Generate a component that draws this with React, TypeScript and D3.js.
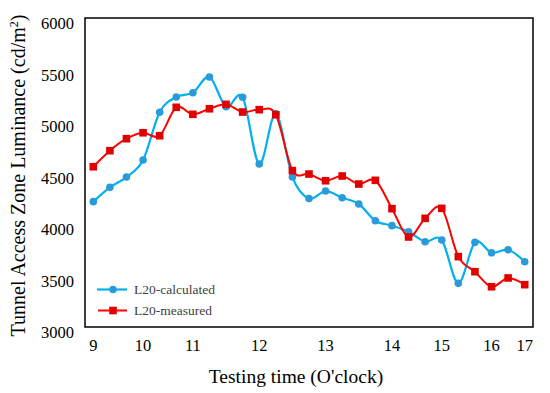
import * as d3 from "d3";

// hour labels shown under particular sample points (the axis is categorical)
const timeLabels = ["9", "", "", "10", "", "", "11", "", "", "", "12", "", "", "", "13", "", "", "", "14", "", "", "15", "", "", "16", "", "17"];

const calculated = [4217, 4356, 4456, 4621, 5085, 5233, 5275, 5427, 5139, 5230, 4583, 5070, 4456, 4247, 4320, 4255, 4194, 4032, 3984, 3925, 3828, 3845, 3424, 3822, 3721, 3750, 3634];
const measured = [4556, 4712, 4828, 4886, 4857, 5133, 5065, 5119, 5162, 5087, 5110, 5061, 4518, 4485, 4420, 4466, 4388, 4424, 4149, 3874, 4055, 4152, 3683, 3537, 3391, 3476, 3411];

const yTicks = [3000, 3500, 4000, 4500, 5000, 5500, 6000];

const W = 550, H = 393;
const M = { left: 85, right: 533, top: 18, bottom: 327 };
const FONT = "'Liberation Serif', 'Times New Roman', serif";

export default function App() {
  const x = d3
    .scalePoint<number>()
    .domain(timeLabels.map((_, i) => i))
    .range([M.left, M.right])
    .padding(0.5);
  const y = d3.scaleLinear().domain([3000, 6000]).range([M.bottom, M.top]);

  const line = d3
    .line<number>()
    .x((_, i) => x(i)!)
    .y((d) => y(d))
    .curve(d3.curveCardinal.tension(0));

  const blueLine = "#00B0F0";
  const blueDot = "#2A9BD8";
  const red = "#FF0000";
  const redDot = "#E00000";

  return (
    <svg width={W} height={H} style={{ position: "absolute", left: 0, top: 0, background: "#fff" }} fontFamily={FONT}>
      {/* y labels */}
      {yTicks.map((t) => (
        <text key={t} x={74} y={y(t) + 11} textAnchor="end" fontSize={16.5} fill="#000">
          {t}
        </text>
      ))}
      {/* x labels */}
      {timeLabels.map((l, i) =>
        l ? (
          <text key={i} x={x(i)!} y={351} textAnchor="middle" fontSize={16.5} fill="#000">
            {l}
          </text>
        ) : null
      )}
      <text x={296} y={383} textAnchor="middle" fontSize={19.5} fill="#000">
        Testing time (O'clock)
      </text>
      <text transform={`translate(25,${(M.top + M.bottom) / 2 + 3}) rotate(-90)`} textAnchor="middle" fontSize={20} fill="#000">
        Tunnel Access Zone Luminance (cd/m<tspan dy={-7} fontSize={12}>2</tspan><tspan dy={7}>)</tspan>
      </text>

      {/* series */}
      <path d={line(calculated)!} fill="none" stroke={blueLine} strokeWidth={2.2} />
      <path d={line(measured)!} fill="none" stroke={red} strokeWidth={2} />
      {calculated.map((d, i) => (
        <circle key={"c" + i} cx={x(i)!} cy={y(d)} r={3.8} fill={blueDot} />
      ))}
      {measured.map((d, i) => (
        <rect key={"m" + i} x={x(i)! - 3.8} y={y(d) - 3.8} width={7.6} height={7.6} fill={redDot} />
      ))}

      {/* legend */}
      <line x1={97} x2={127} y1={289.5} y2={289.5} stroke={blueLine} strokeWidth={2.2} />
      <circle cx={113} cy={289.5} r={3.8} fill={blueDot} />
      <text x={134} y={294} fontSize={13.5} fill="#404040">L20-calculated</text>
      <line x1={98} x2={127} y1={310.5} y2={310.5} stroke={red} strokeWidth={2} />
      <rect x={109.2} y={306.7} width={7.6} height={7.6} fill={redDot} />
      <text x={134} y={315} fontSize={13.5} fill="#404040">L20-measured</text>

      {/* frame */}
      <rect x={M.left} y={M.top} width={M.right - M.left} height={M.bottom - M.top} fill="none" stroke="#000" strokeWidth={1.5} />
    </svg>
  );
}
